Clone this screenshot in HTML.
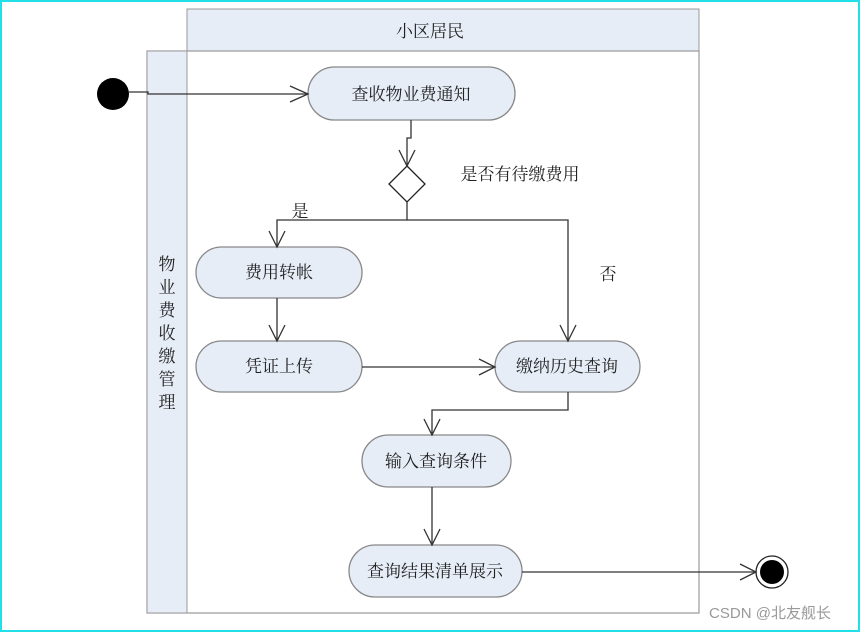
<!DOCTYPE html>
<html><head><meta charset="utf-8"><style>
html,body{margin:0;padding:0;background:#fff}
body{width:860px;height:632px;overflow:hidden}
svg text{font-family:"Liberation Serif","Noto Serif CJK SC",serif;fill:#222}
</style></head><body>
<svg width="860" height="632" viewBox="0 0 860 632" xmlns="http://www.w3.org/2000/svg">
<rect x="1" y="1" width="858" height="630" fill="#fff" stroke="#22e0e8" stroke-width="2"/>
<rect x="187" y="9" width="512" height="42" fill="#e6edf7" stroke="#999" stroke-width="1"/>
<text x="430" y="37" font-size="17" text-anchor="middle">小区居民</text>
<rect x="147" y="51" width="552" height="562" fill="#fff" stroke="#999" stroke-width="1.2"/>
<rect x="147" y="51" width="40" height="562" fill="#e6edf7" stroke="#999" stroke-width="1"/>
<g font-size="17" text-anchor="middle">
<text x="167" y="270">物</text><text x="167" y="293">业</text><text x="167" y="316">费</text><text x="167" y="339">收</text><text x="167" y="362">缴</text><text x="167" y="385">管</text><text x="167" y="408">理</text>
</g>
<g fill="#e6edf7" stroke="#888" stroke-width="1.3">
<rect x="308" y="67" width="207" height="53" rx="26.5"/>
<rect x="196" y="247" width="166" height="51" rx="25.5"/>
<rect x="196" y="341" width="166" height="51" rx="25.5"/>
<rect x="495" y="341" width="145" height="51" rx="25.5"/>
<rect x="362" y="435" width="149" height="52" rx="26"/>
<rect x="349" y="545" width="173" height="52" rx="26"/>
</g>
<g font-size="17" text-anchor="middle">
<text x="411" y="100">查收物业费通知</text>
<text x="279" y="278">费用转帐</text>
<text x="279" y="372">凭证上传</text>
<text x="567" y="372">缴纳历史查询</text>
<text x="436" y="467">输入查询条件</text>
<text x="435" y="577">查询结果清单展示</text>
<text x="520" y="180">是否有待缴费用</text>
<text x="300" y="217">是</text>
<text x="608" y="280">否</text>
</g>
<polygon points="407,166 425,184 407,202 389,184" fill="#fff" stroke="#222" stroke-width="1.3"/>
<circle cx="113" cy="94" r="16" fill="#000"/>
<circle cx="772" cy="572" r="16" fill="#fff" stroke="#222" stroke-width="1.3"/>
<circle cx="772" cy="572" r="12" fill="#000"/>
<g fill="none" stroke="#333" stroke-width="1.3">
<polyline points="129,92 148,92 148,94 308,94"/>
<polyline points="290,86 308,94 290,102"/>
<polyline points="411,120 411,138 407,138 407,166"/>
<polyline points="399,150 407,166 415,150"/>
<polyline points="407,202 407,220 277,220 277,247"/>
<polyline points="269,231 277,247 285,231"/>
<polyline points="407,220 568,220 568,341"/>
<polyline points="560,325 568,341 576,325"/>
<polyline points="277,298 277,341"/>
<polyline points="269,325 277,341 285,325"/>
<polyline points="362,367 495,367"/>
<polyline points="479,359 495,367 479,375"/>
<polyline points="568,392 568,410 432,410 432,435"/>
<polyline points="424,419 432,435 440,419"/>
<polyline points="432,487 432,545"/>
<polyline points="424,529 432,545 440,529"/>
<polyline points="522,572 756,572"/>
<polyline points="740,564 756,572 740,580"/>
</g>
<text x="770" y="618" font-size="15" text-anchor="middle" style="fill:#999;font-family:'Liberation Sans','Noto Sans CJK SC',sans-serif">CSDN @北友舰长</text>
</svg>
</body></html>
